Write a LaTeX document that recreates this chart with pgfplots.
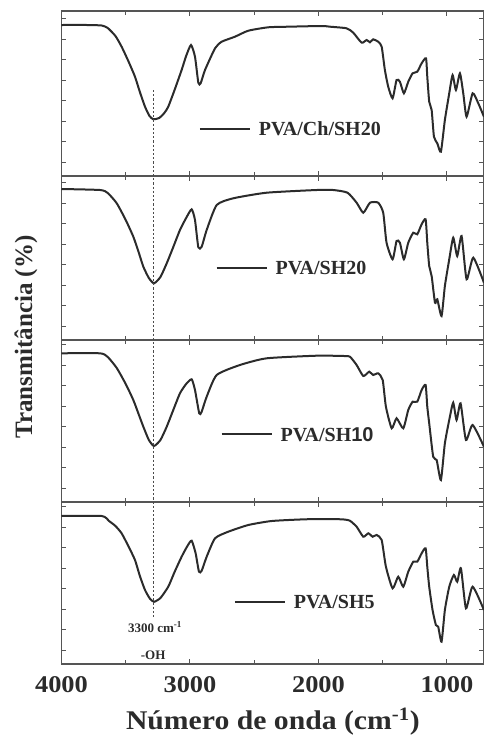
\documentclass[border=0pt]{standalone}
\usepackage{fontspec}
\setmainfont{Liberation Serif}
\setsansfont{Liberation Sans}
\usepackage{pgfplots}
\pgfplotsset{compat=1.18}

\definecolor{ink}{HTML}{2B2B2B}
\definecolor{frame}{HTML}{555555}

\pgfplotsset{
  panel/.style={
    scale only axis,
    width=422.7pt,
    xmin=710, xmax=4000,
    x dir=reverse,
    ymin=0,
    xtick={1000,2000,3000,4000},
    minor xtick={1500,2500,3500},
    ytick={14,34.5,55,75.5,96,116.5,137,157.5},
    yticklabels={},
    xticklabels={},
    tick align=inside,
    xtick pos=both,
    ytick pos=both,
    major tick length=5pt,
    minor tick length=4pt,
    axis line style={frame, line width=1.4pt},
    every tick/.style={frame, line width=1pt},
    anchor=north west,
  },
  spec/.style={ink, line width=2pt, smooth, tension=0.35, mark=none},
}
\newcommand{\legfont}{\fontsize{20}{24}\selectfont\bfseries}
\newcommand{\tag}[3]{% x, y, text
  \draw[ink, line width=1.8pt] (axis cs:#1,#2) -- ++(50pt,0pt)
    node[anchor=west, inner sep=0pt, xshift=8pt, font=\legfont, text=ink] {#3};}

\begin{document}
\begin{tikzpicture}
\useasboundingbox (0,0) rectangle (484pt,-737pt);

% PVA/Ch/SH20
\begin{axis}[panel, at={(61.5pt,-11pt)}, height=165pt, ymax=165]
\addplot[spec] coordinates {
(4000,151)(3800,151)(3687,150.5)(3640,148)(3580,140)(3532,129.3)(3480,115)(3428,99.3)(3390,84)(3350,69.3)(3315,60)(3285,56.7)(3240,58)(3200,63)(3169,69.3)(3120,86)(3065,106)(3030,120)(2992,131)(2961,119.3)(2935,93.3)(2917,92.7)(2883,106)(2805,127.7)(2753,134.3)(2650,139.3)(2546,145.3)(2391,148.7)(2235,149.3)(1975,150)(1910,149.3)(1781,147.7)(1729,143.3)(1664,133.3)(1625,136)(1599,133.7)(1574,136.7)(1535,134.3)(1508,129.3)(1483,106)(1457,89.3)(1423,77.7)(1392,96)(1366,94.3)(1335,82.7)(1301,94.3)(1267,102.7)(1231,104.3)(1197,112.7)(1163,117.7)(1153,99.3)(1138,74.3)(1119,66)(1101,39.3)(1075,32.7)(1047,24.3)(1016,56)(982,82.7)(956,101)(930,86)(899,102.7)(873,82.7)(847,59.3)(800,82.7)(756,72.7)(712,59.3)
};
\tag{2922}{47}{PVA/Ch/SH20}
\coordinate (ohtop) at (axis cs:3285,86);
\end{axis}

% PVA/SH20
\begin{axis}[panel, at={(61.5pt,-176pt)}, height=164pt, ymax=164]
\addplot[spec] coordinates {
(4000,151)(3700,150)(3640,147)(3570,136.7)(3500,120)(3441,103.3)(3400,88)(3363,73.3)(3320,62)(3280,56.7)(3230,63)(3181,76.7)(3130,93)(3078,110)(3030,122)(2987,130.7)(2961,120)(2935,92.7)(2909,93.3)(2870,110)(2792,135)(2663,141.7)(2403,147.3)(2014,150)(1885,150)(1774,147.3)(1703,137.3)(1651,127.3)(1599,137.3)(1535,137.3)(1496,127.3)(1470,97.3)(1423,80.7)(1392,99)(1366,97.3)(1335,80.7)(1301,97.3)(1262,107.3)(1231,105.7)(1197,115.7)(1166,120.7)(1153,97.3)(1138,74)(1119,64)(1093,37.3)(1075,40.7)(1042,24)(1016,54)(982,80.7)(951,102.3)(920,84)(886,104)(847,60.7)(795,82.3)(712,57.3)
};
\tag{2792}{71.7}{PVA/SH20}
\end{axis}

% PVA/SH10
\begin{axis}[panel, at={(61.5pt,-340pt)}, height=162pt, ymax=162]
\addplot[spec] coordinates {
(4000,148.7)(3700,148.7)(3640,145)(3570,134)(3500,118)(3441,102)(3400,88)(3363,75.3)(3320,62)(3280,56)(3230,62)(3181,75.3)(3130,92)(3078,108.7)(3030,118)(2987,122.7)(2961,112)(2928,88.7)(2910,90)(2870,105.3)(2792,127)(2611,137)(2403,143.7)(2014,146.3)(1800,146)(1755,145.3)(1703,137)(1651,126)(1605,130.3)(1574,127)(1535,128.7)(1500,122)(1475,95.3)(1430,73.7)(1392,83.7)(1340,73.7)(1301,92)(1267,100.3)(1231,100.3)(1197,112)(1166,117)(1153,95.3)(1138,78.7)(1107,45.3)(1080,42)(1047,22)(1016,58.7)(977,85.3)(951,99.3)(925,82)(894,98.7)(852,62)(800,77)(712,55.3)
};
\tag{2753}{67.7}{PVA/SH{\sffamily 10}}
\end{axis}

% PVA/SH5
\begin{axis}[panel, at={(61.5pt,-502pt)}, height=162pt, ymax=162,
    xticklabels={1000,2000,3000,4000},
    xticklabel pos=lower,
    xticklabel style={font=\fontsize{24}{28}\selectfont\bfseries, text=ink, yshift=-9pt, xscale=1.1},
    /pgf/number format/assume math mode=true,
    xlabel={Número de onda (cm\textsuperscript{-1})},
    xlabel style={font=\fontsize{27}{32}\selectfont\bfseries, text=ink,
      at={(axis description cs:0.5,0)}, anchor=center, yshift=-58pt, xscale=1.1}]
\addplot[spec] coordinates {
(4000,148)(3687,148)(3630,143)(3580,138)(3532,130.7)(3480,118)(3428,104)(3390,88)(3350,74)(3310,65)(3278,62.3)(3230,66)(3169,77.3)(3120,92)(3065,107.3)(3020,118)(2987,123.3)(2956,110.7)(2930,92.3)(2909,93.3)(2870,107.3)(2805,125.7)(2702,132.3)(2546,139)(2364,143)(2105,144.7)(1897,145)(1800,144.5)(1755,143.3)(1703,137.3)(1651,127.3)(1612,130.7)(1578,127.3)(1547,129)(1508,124)(1475,97.3)(1423,75.7)(1379,87.3)(1340,77.3)(1301,92.3)(1262,102.3)(1231,102.3)(1197,110.7)(1166,115.7)(1153,97.3)(1138,77.3)(1112,54)(1086,39)(1068,37.3)(1042,22.3)(1016,54)(982,77.3)(946,89)(920,82.3)(891,95.7)(852,55.7)(800,77.3)(712,54)
};
\tag{2650}{62.3}{PVA/SH5}
\coordinate (ohbot) at (axis cs:3285,47);
\node[font=\fontsize{13}{15}\selectfont\bfseries, text=ink] at (axis cs:3272,37) {3300 cm\textsuperscript{-1}};
\node[font=\fontsize{13}{15}\selectfont\bfseries, text=ink] at (axis cs:3287,9) {-OH};
\end{axis}

\draw[ink!85, line width=1.5pt, dash pattern=on 2.2pt off 2pt] (ohtop) -- (ohbot);

\node[rotate=90, font=\fontsize{25}{30}\selectfont\bfseries, text=ink] at (26pt,-337pt) {Transmitância (\%)};
\end{tikzpicture}
\end{document}
